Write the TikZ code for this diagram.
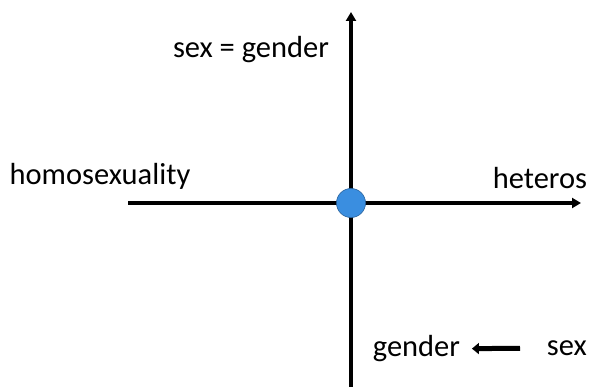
\documentclass[tikz,border=0pt]{standalone}
\usepackage{fontspec}
\setmainfont{Carlito}
\usetikzlibrary{arrows.meta}
\definecolor{punto}{HTML}{3A8EE0}

\begin{document}
\begin{tikzpicture}[x=1pt,y=-1pt,line width=3.8pt,
    eje/.style={-{Triangle[length=9pt,width=10pt]}},
    lbl/.style={font=\fontsize{30.5}{34}\selectfont,inner sep=0pt}]
  \useasboundingbox (0,0) rectangle (591,387);
  \clip (0,0) rectangle (591,387);
  % ejes
  \coordinate (o) at (351,203);
  \coordinate (arriba) at (351,12);
  \coordinate (abajo) at (351,395);
  \coordinate (izq) at (128,203);
  \coordinate (der) at (581,203);
  \draw[eje] (abajo) -- (arriba);
  \draw[eje] (izq) -- (der);
  \node[circle,fill=punto,draw=punto!70!black,line width=0.6pt,minimum size=29pt,inner sep=0pt] (centro) at (o) {};
  % etiquetas
  \node[lbl] (sg) at (251,50) {sex = gender};
  \node[lbl] (homo) at (100,176) {homosexuality};
  \node[lbl,anchor=east] (hetero) at (589,178) {heteros};
  \node[lbl,anchor=west] (gen) at (371,349) {gender};
  \node[lbl,anchor=west] (sex) at (545,348) {sex};
  \draw[line width=5pt,-{Triangle[length=7pt,width=11pt]},shorten >=10pt,shorten <=25pt] (sex) -- (gen);
\end{tikzpicture}
\end{document}
